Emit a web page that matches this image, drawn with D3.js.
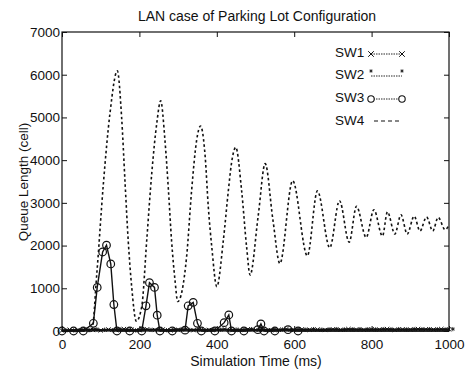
<!DOCTYPE html>
<html>
<head>
<meta charset="utf-8">
<script src="https://cdn.jsdelivr.net/npm/d3@7"></script>
<style>
  html, body { margin: 0; padding: 0; background: #fff; }
  svg { display: block; }
  text { font-family: "Liberation Sans", Arial, Helvetica, sans-serif; fill: #111; }
</style>
</head>
<body>
<svg id="chart" width="465" height="374"></svg>
<script>
// Axis ticks
const xTicks = [0, 200, 400, 600, 800, 1000];
const yTicks = [0, 1000, 2000, 3000, 4000, 5000, 6000, 7000];

// SW4: queue length (cells) vs simulation time (ms)
const sw4Time  = [0, 40, 77, 90, 107, 124, 143, 154, 163, 171, 180, 192, 206, 219, 232, 245, 255, 266, 275, 283, 292, 299, 322, 335, 348, 358, 370, 378, 387, 400, 417, 430, 438, 449, 464, 477, 486, 507, 525, 545, 563, 596, 634, 660, 692, 717, 742, 761, 786, 806, 828, 841, 860, 876, 892, 910, 925, 942, 958, 972, 990, 1000];
const sw4Value = [0, 0, 0, 1350, 3460, 5100, 6090, 5010, 3460, 2130, 1040, 230, 570, 2130, 3700, 4870, 5390, 4470, 3300, 2130, 1190, 690, 1740, 3300, 4470, 4800, 4080, 2910, 1970, 1040, 2130, 3300, 3930, 4300, 3300, 1970, 1310, 2700, 3920, 2600, 1580, 3520, 1760, 3280, 1950, 3050, 2080, 2920, 2190, 2840, 2220, 2790, 2270, 2720, 2270, 2690, 2340, 2670, 2340, 2660, 2370, 2480];

// SW3: sampled queue length
const sw3Time  = [0, 30, 55, 81, 91, 105, 115, 126, 134, 142, 175, 206, 217, 226, 239, 246, 253, 285, 318, 326, 339, 350, 360, 395, 419, 431, 438, 470, 506, 514, 522, 550, 584, 610, 1000];
const sw3Value = [0, 0, 0, 180, 1020, 1850, 2010, 1570, 620, 0, 0, 0, 590, 1130, 1020, 370, 0, 0, 20, 590, 670, 180, 0, 0, 195, 375, 0, 0, 30, 165, 0, 0, 30, 0, 0];

// SW1 and SW2 stay close to empty for the whole run
const lowTime  = [0, 20, 40, 60, 80, 100, 120, 140, 160, 180, 200, 220, 240, 260, 280, 300, 320, 340, 360, 380, 400, 420, 440, 460, 480, 500, 520, 540, 560, 580, 600, 620, 640, 660, 680, 700, 720, 740, 760, 780, 800, 820, 840, 860, 880, 900, 920, 940, 960, 980, 1000];
const sw1Value = [10, 30, 20, 40, 25, 15, 35, 20, 45, 30, 20, 40, 25, 35, 15, 30, 40, 20, 35, 25, 30, 45, 20, 30, 40, 25, 35, 20, 30, 45, 25, 40, 30, 35, 25, 40, 30, 45, 35, 30, 40, 35, 45, 30, 40, 35, 45, 40, 35, 45, 40];
const sw2Value = [20, 15, 35, 20, 40, 30, 20, 45, 25, 15, 35, 25, 40, 20, 30, 45, 25, 35, 20, 40, 30, 20, 35, 25, 45, 30, 20, 40, 35, 25, 40, 30, 45, 30, 40, 45, 35, 40, 45, 40, 35, 45, 40, 45, 35, 45, 40, 45, 40, 35, 45];

const legendNames = ["SW1", "SW2", "SW3", "SW4"];
const titleText = "LAN case of Parking Lot Configuration";
const xLabel = "Simulation Time (ms)";
const yLabel = "Queue Length (cell)";

const svg = d3.select("#chart");
const plot = { left: 62, right: 449, top: 32, bottom: 331 };

const x = d3.scaleLinear().domain([0, 1000]).range([plot.left, plot.right]);
const y = d3.scaleLinear().domain([0, 7000]).range([plot.bottom, plot.top]);

// Frame
svg.append("rect")
  .attr("x", plot.left).attr("y", plot.top)
  .attr("width", plot.right - plot.left).attr("height", plot.bottom - plot.top)
  .attr("fill", "none").attr("stroke", "#111").attr("stroke-width", 1.2);

function styleAxis(g, fontSize) {
  g.select(".domain").remove();
  g.selectAll(".tick line").attr("stroke", "#111").attr("stroke-width", 1);
  g.selectAll(".tick text").attr("font-size", fontSize).attr("fill", "#111")
    .attr("font-family", "Liberation Sans, Arial, sans-serif");
}

// Inward ticks on all four sides, labels on bottom and left
svg.append("g").attr("transform", `translate(0,${plot.bottom})`)
  .call(d3.axisBottom(x).tickValues(xTicks).tickSizeInner(-5).tickSizeOuter(0).tickPadding(8).tickFormat(d3.format("d")))
  .call(g => styleAxis(g, 13.5));
svg.append("g").attr("transform", `translate(${plot.left},0)`)
  .call(d3.axisLeft(y).tickValues(yTicks).tickSizeInner(-5).tickSizeOuter(0).tickPadding(2).tickFormat(d3.format("d")))
  .call(g => styleAxis(g, 13.5));
svg.append("g").attr("transform", `translate(0,${plot.top})`)
  .call(d3.axisTop(x).tickValues(xTicks).tickSizeInner(-5).tickSizeOuter(0).tickFormat(""))
  .call(g => styleAxis(g, 13));
svg.append("g").attr("transform", `translate(${plot.right},0)`)
  .call(d3.axisRight(y).tickValues(yTicks).tickSizeInner(-5).tickSizeOuter(0).tickFormat(""))
  .call(g => styleAxis(g, 13));

// Title and axis titles
svg.append("text").attr("x", 257).attr("y", 21).attr("text-anchor", "middle")
  .attr("font-size", 14).text(titleText);
svg.append("text").attr("x", 256).attr("y", 366).attr("text-anchor", "middle")
  .attr("font-size", 14).text(xLabel);
svg.append("text").attr("transform", "translate(28,182) rotate(-90)")
  .attr("text-anchor", "middle").attr("font-size", 13.5).text(yLabel);

const pts = (ts, vs) => ts.map((t, i) => [t, vs[i]]);
const lineGen = d3.line().x(d => x(d[0])).y(d => y(d[1]));

const data = svg.append("g");

// SW1 (x markers) and SW2 (* markers) along the floor
const sw1 = pts(lowTime, sw1Value);
const sw2 = pts(lowTime, sw2Value);
data.append("path").datum(sw1).attr("d", lineGen)
  .attr("fill", "none").attr("stroke", "#111").attr("stroke-width", 1.6);
data.append("path").datum(sw2).attr("d", lineGen)
  .attr("fill", "none").attr("stroke", "#111").attr("stroke-width", 1.4);

const crossSym = d3.symbol().type(d3.symbolX).size(14);
const starSym = d3.symbol().type(d3.symbolAsterisk).size(12);
data.selectAll(".m1").data(sw1).join("path").attr("class", "m1")
  .attr("transform", d => `translate(${x(d[0])},${y(d[1])})`)
  .attr("d", crossSym()).attr("fill", "none").attr("stroke", "#111").attr("stroke-width", 1);
data.selectAll(".m2").data(sw2).join("path").attr("class", "m2")
  .attr("transform", d => `translate(${x(d[0] + 10)},${y(d[1])})`)
  .attr("d", starSym()).attr("fill", "none").attr("stroke", "#111").attr("stroke-width", 0.9);

// SW4 dashed oscillation
const sw4 = pts(sw4Time, sw4Value);
data.append("path").datum(sw4)
  .attr("d", d3.line().x(d => x(d[0])).y(d => y(d[1])).curve(d3.curveMonotoneX))
  .attr("fill", "none").attr("stroke", "#111").attr("stroke-width", 1.6)
  .attr("stroke-dasharray", "2.6,2.6");

// SW3 solid line with circle markers
const sw3 = pts(sw3Time, sw3Value);
data.append("path").datum(sw3).attr("d", lineGen)
  .attr("fill", "none").attr("stroke", "#111").attr("stroke-width", 1.4);
data.selectAll(".m3").data(sw3.slice(0, -1)).join("circle").attr("class", "m3")
  .attr("cx", d => x(d[0])).attr("cy", d => y(d[1])).attr("r", 3.8)
  .attr("fill", "none").attr("stroke", "#111").attr("stroke-width", 1.2);

// Legend
const legend = svg.append("g");
const rowY = [52, 74, 97, 120];
legendNames.forEach((name, i) => {
  legend.append("text").attr("x", 335).attr("y", rowY[i]).attr("dy", "0.35em")
    .attr("font-size", 13.5).text(name);
});
const lx0 = 371, lx1 = 402;
// SW1 sample
legend.append("line").attr("x1", lx0).attr("x2", lx1).attr("y1", rowY[0] + 2).attr("y2", rowY[0] + 2)
  .attr("stroke", "#111").attr("stroke-width", 0.9).attr("stroke-dasharray", "1.5,1");
[lx0, lx1].forEach(px => legend.append("path").attr("transform", `translate(${px},${rowY[0] + 2})`)
  .attr("d", d3.symbol().type(d3.symbolX).size(22)()).attr("fill", "none").attr("stroke", "#111").attr("stroke-width", 1));
// SW2 sample
legend.append("line").attr("x1", lx0).attr("x2", lx1).attr("y1", rowY[1] + 2).attr("y2", rowY[1] + 2)
  .attr("stroke", "#111").attr("stroke-width", 0.9).attr("stroke-dasharray", "1.5,1");
[lx0, lx1].forEach(px => legend.append("path").attr("transform", `translate(${px},${rowY[1] - 3})`)
  .attr("d", d3.symbol().type(d3.symbolAsterisk).size(8)()).attr("fill", "none").attr("stroke", "#111").attr("stroke-width", 0.9));
// SW3 sample
legend.append("line").attr("x1", lx0).attr("x2", lx1).attr("y1", rowY[2] + 2).attr("y2", rowY[2] + 2)
  .attr("stroke", "#111").attr("stroke-width", 0.9).attr("stroke-dasharray", "1.5,1");
[lx0, lx1].forEach(px => legend.append("circle").attr("cx", px).attr("cy", rowY[2] + 2).attr("r", 3.2)
  .attr("fill", "#fff").attr("stroke", "#111").attr("stroke-width", 1.1));
// SW4 sample
legend.append("line").attr("x1", lx0 + 3).attr("x2", lx1).attr("y1", rowY[3] + 1).attr("y2", rowY[3] + 1)
  .attr("stroke", "#111").attr("stroke-width", 1.2).attr("stroke-dasharray", "4,3");
</script>
</body>
</html>
